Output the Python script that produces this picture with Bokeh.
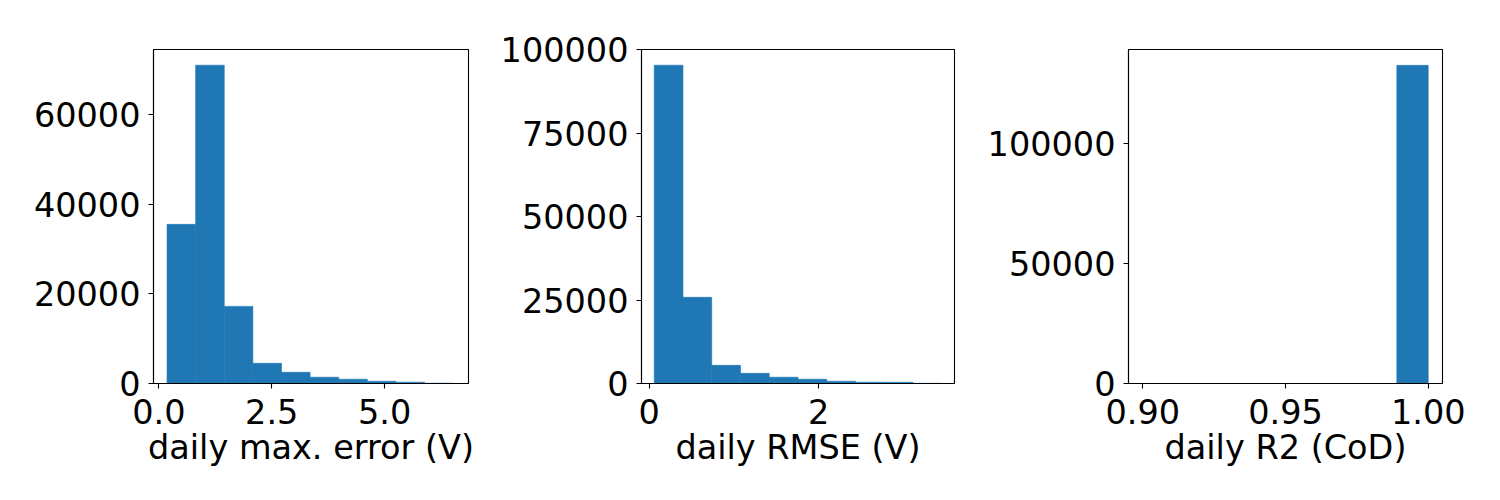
from bokeh.plotting import figure
from bokeh.layouts import row
from bokeh.models import Range1d, FixedTicker, NumeralTickFormatter
from bokeh.embed import file_html
from bokeh.resources import INLINE

# ---- data ----
max_err_edges = [0.18, 0.814, 1.448, 2.082, 2.716, 3.35, 3.984, 4.618, 5.252, 5.886, 6.52]
max_err_counts = [35500, 71000, 17200, 4500, 2500, 1400, 950, 500, 290, 60]

rmse_edges = [0.06, 0.399, 0.738, 1.077, 1.416, 1.755, 2.094, 2.433, 2.772, 3.111, 3.45]
rmse_counts = [95300, 25800, 5450, 3050, 1880, 1280, 680, 380, 350, 50]

r2_edges = [0.989, 1.0]
r2_counts = [132600]

x_labels = ["daily max. error (V)", "daily RMSE (V)", "daily R2 (CoD)"]
x_ticks = [[0.0, 2.5, 5.0], [0, 2], [0.90, 0.95, 1.00]]
x_formats = ["0.0", "0", "0.00"]
y_ticks = [[0, 20000, 40000, 60000], [0, 25000, 50000, 75000, 100000], [0, 50000, 100000]]

FONT = "DejaVu Sans"
FS = "33.5px"
BAR = "#1f77b4"


def make(edges, counts, xr, yr, xt, xf, yt, label, fw, bl, br):
    p = figure(frame_width=fw, frame_height=334, min_border_left=bl, min_border_right=br,
               min_border_top=49, min_border_bottom=100,
               x_range=Range1d(*xr), y_range=Range1d(*yr),
               output_backend="svg", toolbar_location=None,
               background_fill_color="white", border_fill_color="white")
    p.quad(left=edges[:-1], right=edges[1:], top=counts, bottom=0,
           fill_color=BAR, line_color=BAR, line_width=0.6)
    p.grid.visible = False
    p.outline_line_color = "black"
    p.outline_line_width = 1.1
    for ax in (p.xaxis[0], p.yaxis[0]):
        ax.axis_line_color = "black"
        ax.axis_line_width = 1.1
        ax.major_tick_line_color = "black"
        ax.major_tick_line_width = 1.1
        ax.major_tick_out = 5
        ax.major_tick_in = 0
        ax.minor_tick_line_color = None
        ax.major_label_text_font = FONT
        ax.major_label_text_font_size = FS
        ax.major_label_text_color = "black"
    p.xaxis.ticker = FixedTicker(ticks=xt)
    p.xaxis.formatter = NumeralTickFormatter(format=xf)
    p.xaxis.major_label_standoff = 10
    p.xaxis.axis_label = label
    p.xaxis.axis_label_text_font = FONT
    p.xaxis.axis_label_text_font_size = FS
    p.xaxis.axis_label_text_font_style = "normal"
    p.xaxis.axis_label_text_color = "black"
    p.xaxis.axis_label_standoff = 1
    p.yaxis.ticker = FixedTicker(ticks=yt)
    p.yaxis.formatter = NumeralTickFormatter(format="0")
    p.yaxis.major_label_standoff = 8
    return p


p1 = make(max_err_edges, max_err_counts, (-0.12, 6.86), (0, 74500), x_ticks[0], x_formats[0],
          y_ticks[0], x_labels[0], 315, 153, 20)
p2 = make(rmse_edges, rmse_counts, (-0.09, 3.60), (0, 100000), x_ticks[1], x_formats[1],
          y_ticks[1], x_labels[1], 313, 153, 20)
p3 = make(r2_edges, r2_counts, (0.895, 1.005), (0, 139200), x_ticks[2], x_formats[2],
          y_ticks[2], x_labels[2], 314, 154, 44)

layout = row(p1, p2, p3)
open("out.html", "w").write(file_html(layout, INLINE))
